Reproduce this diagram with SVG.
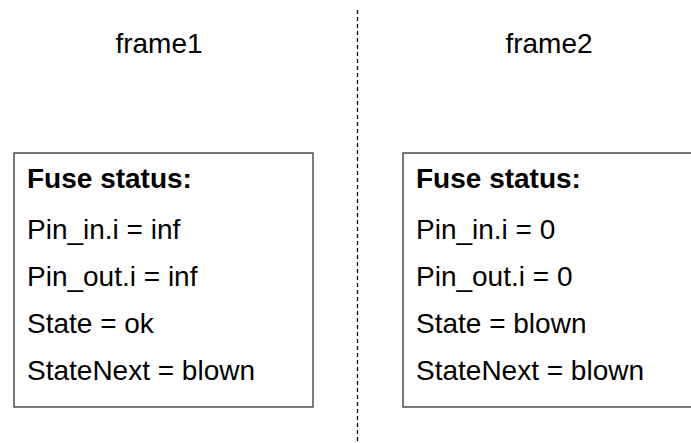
<svg xmlns="http://www.w3.org/2000/svg" width="691" height="443" viewBox="0 0 691 443">
<style>
text{font-family:"Liberation Sans",Arial,sans-serif;font-size:28px;fill:#000}
.b{font-weight:bold}
.box{fill:#fff;stroke:#333;stroke-width:1.3}
.t{text-anchor:middle}
</style>
<rect width="691" height="443" fill="#fff"/>
<g id="connectors">
<line x1="357.5" y1="10" x2="357.5" y2="441" stroke="#000" stroke-width="1.3" stroke-dasharray="4,3"/>
</g>
<g id="frame1">
<text class="t" x="159" y="53">frame1</text>
</g>
<g id="frame2">
<text class="t" x="549" y="53">frame2</text>
</g>
<g id="fuse1">
<rect class="box" x="14" y="153" width="299" height="254"/>
<text class="b" x="27" y="188">Fuse status:</text>
<text x="27" y="239">Pin_in.i = inf</text>
<text x="27" y="286">Pin_out.i = inf</text>
<text x="27" y="333">State = ok</text>
<text x="27" y="380">StateNext = blown</text>
</g>
<g id="fuse2">
<rect class="box" x="403" y="153" width="299" height="254"/>
<text class="b" x="416" y="188">Fuse status:</text>
<text x="416" y="239">Pin_in.i = 0</text>
<text x="416" y="286">Pin_out.i = 0</text>
<text x="416" y="333">State = blown</text>
<text x="416" y="380">StateNext = blown</text>
</g>
</svg>
